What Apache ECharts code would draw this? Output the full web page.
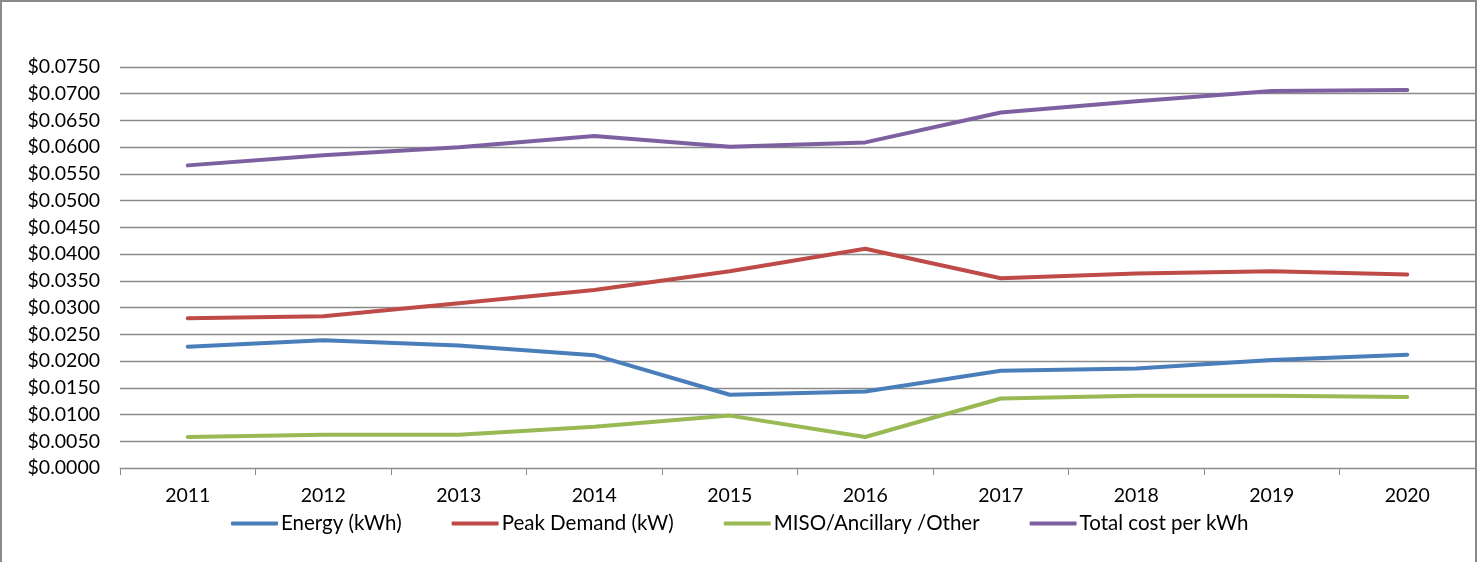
<!DOCTYPE html>
<html>
<head>
<meta charset="utf-8">
<script src="https://cdn.jsdelivr.net/npm/echarts@6/dist/echarts.min.js"></script>
<style>
  html, body { margin: 0; padding: 0; background: #fff; }
  #main {
    width: 1477px; height: 562px;
    box-sizing: border-box;
    border-top: 2px solid #8a8a8a;
    border-left: 2px solid #8a8a8a;
    border-right: 2px solid #8a8a8a;
  }
</style>
</head>
<body>
<div id="main"></div>
<script>
// cost per kWh by year
var years = ['2011', '2012', '2013', '2014', '2015', '2016', '2017', '2018', '2019', '2020'];
var energy = [0.0227, 0.0239, 0.0229, 0.0211, 0.0137, 0.0143, 0.0182, 0.0186, 0.0202, 0.0212];
var peakDemand = [0.0280, 0.0284, 0.0308, 0.0333, 0.0368, 0.0410, 0.0355, 0.0364, 0.0368, 0.0362];
var miso = [0.0058, 0.0062, 0.0062, 0.0077, 0.0098, 0.0058, 0.0130, 0.0135, 0.0135, 0.0133];
var totalCost = [0.0566, 0.0585, 0.0600, 0.0621, 0.0601, 0.0609, 0.0665, 0.0686, 0.0705, 0.0707];

var seriesNames = ['Energy (kWh)', 'Peak Demand (kW)', 'MISO/Ancillary /Other', 'Total cost per kWh'];
var colors = ['#4a7ebb', '#be4b48', '#98b954', '#7d60a0'];

var chart = echarts.init(document.getElementById('main'));

function makeLine(name, data) {
  return {
    name: name,
    type: 'line',
    data: data,
    symbol: 'none',
    lineStyle: { width: 4, cap: 'round', join: 'round' }
  };
}

var option = {
  animation: false,
  color: colors,
  textStyle: { fontFamily: 'Lato', color: '#000' },
  grid: { left: 118, right: -3, top: 65, bottom: 94 },
  legend: {
    bottom: 23,
    left: 224,
    itemWidth: 47,
    itemHeight: 4,
    itemGap: 50,
    icon: 'roundRect',
    textStyle: { fontFamily: 'Lato', fontSize: 20.5, color: '#000', padding: [0, 0, 0, -2] },
    data: seriesNames
  },
  xAxis: {
    type: 'category',
    data: years,
    boundaryGap: true,
    axisLine: { lineStyle: { color: '#8a8a8a', width: 1 } },
    axisTick: { show: true, length: 7, lineStyle: { color: '#8a8a8a' } },
    axisLabel: { fontFamily: 'Lato', fontSize: 19.5, color: '#000', margin: 18 }
  },
  yAxis: {
    type: 'value',
    min: 0,
    max: 0.075,
    interval: 0.005,
    axisLine: { show: false },
    axisTick: { show: false },
    axisLabel: {
      fontFamily: 'Lato', fontSize: 19.5, color: '#000', margin: 20,
      formatter: function (v) { return '$' + v.toFixed(4); }
    },
    splitLine: { lineStyle: { color: '#8a8a8a', width: 1.3 } }
  },
  series: [
    makeLine(seriesNames[0], energy),
    makeLine(seriesNames[1], peakDemand),
    makeLine(seriesNames[2], miso),
    makeLine(seriesNames[3], totalCost)
  ]
};

chart.setOption(option);
</script>
</body>
</html>
